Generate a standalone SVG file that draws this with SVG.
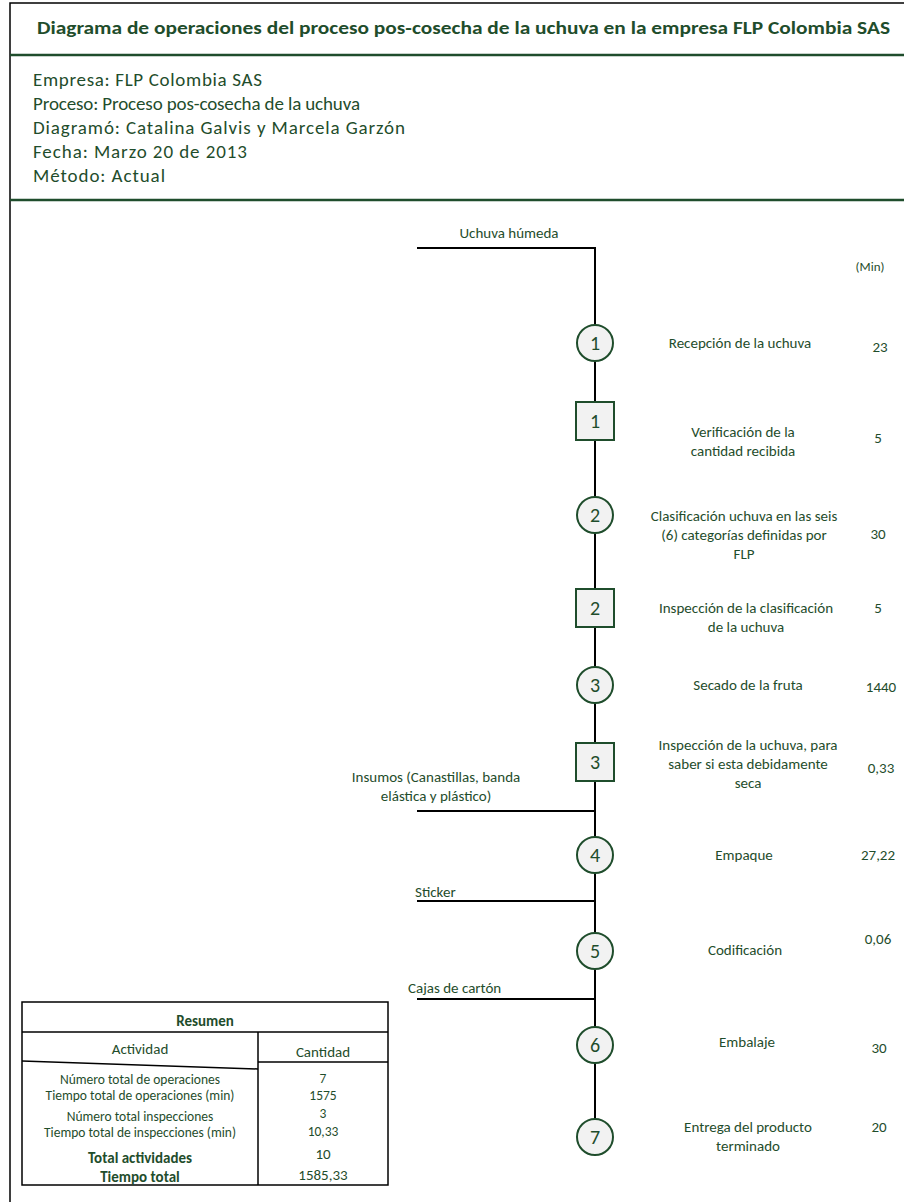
<svg xmlns="http://www.w3.org/2000/svg" width="904" height="1202" viewBox="0 0 904 1202">
<style>
text{font-family:"Carlito","Liberation Sans",Arial,sans-serif;fill:#1f4d2c}
.t{font-size:17.5px;font-weight:bold}
.info{font-size:19px}
.s{font-size:15px}
.tt{font-size:13.5px}
.c{text-anchor:middle}
.n{font-size:20px;text-anchor:middle}
.b{font-weight:bold}
.op{fill:#f2f2f2;stroke:#1f4d2c;stroke-width:2}
.flow{stroke:#000;stroke-width:2;fill:none}
.frame{stroke:#000;stroke-width:1.5;fill:none}
.sep{stroke:#1f4d2c;stroke-width:2.5}
.tb{stroke:#000;stroke-width:1.5;fill:none}
</style>
<rect width="904" height="1202" fill="#fff"/>
<g id="frame">
<path class="frame" d="M10,1202 V3 H904"/>
<line class="sep" x1="10" y1="55" x2="904" y2="55"/>
<line class="sep" x1="10" y1="200" x2="904" y2="200"/>
<text class="t" x="37" y="34" textLength="853" lengthAdjust="spacingAndGlyphs">Diagrama de operaciones del proceso pos-cosecha de la uchuva en la empresa FLP Colombia SAS</text>
<text class="info" x="33" y="86" textLength="229" lengthAdjust="spacing">Empresa: FLP Colombia SAS</text>
<text class="info" x="33" y="110" textLength="327" lengthAdjust="spacing">Proceso: Proceso pos-cosecha de la uchuva</text>
<text class="info" x="33" y="134" textLength="372" lengthAdjust="spacing">Diagramó: Catalina Galvis y Marcela Garzón</text>
<text class="info" x="33" y="158" textLength="214" lengthAdjust="spacing">Fecha: Marzo 20 de 2013</text>
<text class="info" x="33" y="182" textLength="132" lengthAdjust="spacing">Método: Actual</text>
</g>
<g id="connectors">
<path class="flow" d="M417,248 H595 V1119"/>
<line class="flow" x1="417" y1="811" x2="595" y2="811"/>
<line class="flow" x1="417" y1="901" x2="595" y2="901"/>
<line class="flow" x1="417" y1="999" x2="595" y2="999"/>
</g>
<g id="inputs">
<text class="s c" x="509" y="238">Uchuva húmeda</text>
<text class="s c" x="436" y="782">Insumos (Canastillas, banda</text>
<text class="s c" x="436" y="801">elástica y plástico)</text>
<text class="s" x="415" y="897">Sticker</text>
<text class="s" x="408" y="993">Cajas de cartón</text>
<text class="c" x="870" y="271" font-size="13">(Min)</text>
</g>
<g id="op1">
<circle class="op" cx="595" cy="343" r="18"/>
<text class="n" x="595" y="350">1</text>
<text class="s c" x="740" y="348">Recepción de la uchuva</text>
<text class="s c" x="880" y="352">23</text>
</g>
<g id="insp1">
<rect class="op" x="576" y="402" width="38" height="38"/>
<text class="n" x="595" y="428">1</text>
<text class="s c" x="743" y="437">Verificación de la</text>
<text class="s c" x="743" y="456">cantidad recibida</text>
<text class="s c" x="878" y="443">5</text>
</g>
<g id="op2">
<circle class="op" cx="595" cy="515" r="18"/>
<text class="n" x="595" y="522">2</text>
<text class="s c" x="744" y="521">Clasificación uchuva en las seis</text>
<text class="s c" x="744" y="540">(6) categorías definidas por</text>
<text class="s c" x="744" y="559">FLP</text>
<text class="s c" x="878" y="539">30</text>
</g>
<g id="insp2">
<rect class="op" x="576" y="589" width="38" height="38"/>
<text class="n" x="595" y="615">2</text>
<text class="s c" x="746" y="613">Inspección de la clasificación</text>
<text class="s c" x="746" y="632">de la uchuva</text>
<text class="s c" x="878" y="613">5</text>
</g>
<g id="op3">
<circle class="op" cx="595" cy="685" r="18"/>
<text class="n" x="595" y="692">3</text>
<text class="s c" x="748" y="690">Secado de la fruta</text>
<text class="s c" x="881" y="692">1440</text>
</g>
<g id="insp3">
<rect class="op" x="576" y="743" width="38" height="38"/>
<text class="n" x="595" y="769">3</text>
<text class="s c" x="748" y="750">Inspección de la uchuva, para</text>
<text class="s c" x="748" y="769">saber si esta debidamente</text>
<text class="s c" x="748" y="788">seca</text>
<text class="s c" x="881" y="773">0,33</text>
</g>
<g id="op4">
<circle class="op" cx="595" cy="855" r="18"/>
<text class="n" x="595" y="862">4</text>
<text class="s c" x="744" y="860">Empaque</text>
<text class="s c" x="878" y="860">27,22</text>
</g>
<g id="op5">
<circle class="op" cx="595" cy="951" r="18"/>
<text class="n" x="595" y="958">5</text>
<text class="s c" x="745" y="955">Codificación</text>
<text class="s c" x="878" y="944">0,06</text>
</g>
<g id="op6">
<circle class="op" cx="595" cy="1045" r="18"/>
<text class="n" x="595" y="1052">6</text>
<text class="s c" x="747" y="1047">Embalaje</text>
<text class="s c" x="879" y="1053">30</text>
</g>
<g id="op7">
<circle class="op" cx="595" cy="1137" r="18"/>
<text class="n" x="595" y="1144">7</text>
<text class="s c" x="748" y="1132">Entrega del producto</text>
<text class="s c" x="748" y="1151">terminado</text>
<text class="s c" x="879" y="1132">20</text>
</g>
<g id="resumen">
<rect class="tb" x="22" y="1002" width="366" height="183"/>
<line class="tb" x1="22" y1="1032" x2="388" y2="1032"/>
<line class="tb" x1="258" y1="1032" x2="258" y2="1185"/>
<line class="tb" x1="258" y1="1062" x2="388" y2="1062"/>
<line class="tb" x1="22" y1="1061" x2="258" y2="1069"/>
<text class="s c b" x="205" y="1026">Resumen</text>
<text class="s c" x="140" y="1054">Actividad</text>
<text class="s c" x="323" y="1057">Cantidad</text>
<text class="tt c" x="140" y="1084">Número total de operaciones</text>
<text class="tt c" x="140" y="1100">Tiempo total de operaciones (min)</text>
<text class="tt c" x="140" y="1121">Número total inspecciones</text>
<text class="tt c" x="140" y="1137">Tiempo total de inspecciones (min)</text>
<text class="s c b" x="140" y="1163">Total actividades</text>
<text class="s c b" x="140" y="1182">Tiempo total</text>
<text class="tt c" x="323" y="1083">7</text>
<text class="tt c" x="323" y="1100">1575</text>
<text class="tt c" x="323" y="1118">3</text>
<text class="tt c" x="323" y="1136">10,33</text>
<text class="s c" x="323" y="1159">10</text>
<text class="s c" x="323" y="1180">1585,33</text>
</g>
</svg>
